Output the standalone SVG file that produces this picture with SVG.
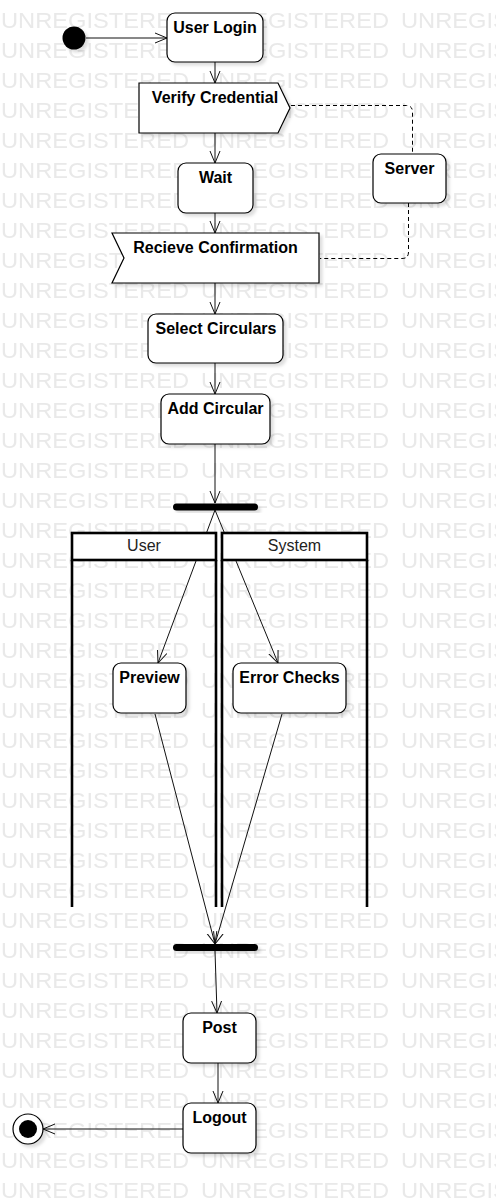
<svg xmlns="http://www.w3.org/2000/svg" width="496" height="1203" viewBox="0 0 496 1203">
<defs>
<style>
.wm{font-family:"Liberation Sans",Arial,sans-serif;font-size:21.5px;fill:#e9e9e9}
.node{fill:#fff;stroke:#000;stroke-width:1.2}
.lbl{font-family:"Liberation Sans",Arial,sans-serif;font-size:16px;font-weight:bold;fill:#000;text-anchor:middle}
.lane{font-family:"Liberation Sans",Arial,sans-serif;font-size:16px;fill:#222;text-anchor:middle}
.edge{fill:none;stroke:#111;stroke-width:1}
.dash{fill:none;stroke:#000;stroke-width:1;stroke-dasharray:4 3}
.lanebox{fill:#fff;stroke:#000;stroke-width:2.6}
.laneline{stroke:#000;stroke-width:2.6;fill:none}
</style>
<filter id="sh" x="-20%" y="-20%" width="150%" height="150%">
<feDropShadow dx="3" dy="3" stdDeviation="1.8" flood-color="#000" flood-opacity="0.13"/>
</filter>
<marker id="arr" markerWidth="14" markerHeight="12" refX="12" refY="6" orient="auto" markerUnits="userSpaceOnUse">
<path d="M0,1 L12,6 L0,11" fill="none" stroke="#111" stroke-width="1"/>
</marker>
<pattern id="wmp" x="0" y="0" width="200" height="30" patternUnits="userSpaceOnUse">
<text class="wm" x="1" y="28" textLength="188" lengthAdjust="spacingAndGlyphs">UNREGISTERED</text>
</pattern>
</defs>
<rect width="496" height="1203" fill="#fff"/>
<rect id="watermark" x="0" y="0" width="496" height="1203" fill="url(#wmp)"/>

<g id="connectors">
<line class="edge" x1="86" y1="38" x2="167" y2="38" marker-end="url(#arr)"/>
<line class="edge" x1="215" y1="62" x2="215" y2="83" marker-end="url(#arr)"/>
<line class="edge" x1="215" y1="133" x2="215" y2="163" marker-end="url(#arr)"/>
<line class="edge" x1="215" y1="213" x2="215" y2="233" marker-end="url(#arr)"/>
<line class="edge" x1="215" y1="283" x2="215" y2="314" marker-end="url(#arr)"/>
<line class="edge" x1="215" y1="363" x2="215" y2="394" marker-end="url(#arr)"/>
<line class="edge" x1="215" y1="444" x2="215" y2="503" marker-end="url(#arr)"/>
<line class="edge" x1="215" y1="510" x2="158" y2="663" marker-end="url(#arr)"/>
<line class="edge" x1="215" y1="510" x2="278" y2="663" marker-end="url(#arr)"/>
<line class="edge" x1="155" y1="714" x2="215" y2="944" marker-end="url(#arr)"/>
<line class="edge" x1="282" y1="714" x2="215" y2="944" marker-end="url(#arr)"/>
<line class="edge" x1="215" y1="951" x2="217" y2="1013" marker-end="url(#arr)"/>
<line class="edge" x1="218" y1="1063" x2="218" y2="1103" marker-end="url(#arr)"/>
<line class="edge" x1="183" y1="1129" x2="43" y2="1129" marker-end="url(#arr)"/>
<path class="dash" d="M291,105.5 H406 Q412.5,105.5 412.5,112 V154"/>
<path class="dash" d="M408.5,203 V252 Q408.5,258.5 402,258.5 H320"/>
</g>

<g id="lane-user">
<rect class="lanebox" x="72" y="533" width="144" height="27"/>
<line class="laneline" x1="72" y1="560" x2="72" y2="907"/>
<line class="laneline" x1="216" y1="560" x2="216" y2="907"/>
<text class="lane" x="144" y="551">User</text>
</g>
<g id="lane-system">
<rect class="lanebox" x="222" y="533" width="145" height="27"/>
<line class="laneline" x1="222" y1="560" x2="222" y2="907"/>
<line class="laneline" x1="367" y1="560" x2="367" y2="907"/>
<text class="lane" x="294.5" y="551">System</text>
</g>

<g id="start">
<circle cx="74" cy="38" r="11.5" fill="#000" filter="url(#sh)"/>
</g>
<g id="user-login">
<rect class="node" x="167" y="13" width="96" height="49" rx="8" filter="url(#sh)"/>
<text class="lbl" x="215" y="32.5">User Login</text>
</g>
<g id="verify-credential">
<polygon class="node" points="139,83 278,83 290,108 278,133 139,133" filter="url(#sh)"/>
<text class="lbl" x="215" y="102.5">Verify Credential</text>
</g>
<g id="server">
<rect class="node" x="373" y="154" width="73" height="49" rx="8" filter="url(#sh)"/>
<text class="lbl" x="409.5" y="173.5">Server</text>
</g>
<g id="wait">
<rect class="node" x="178" y="163" width="75" height="50" rx="8" filter="url(#sh)"/>
<text class="lbl" x="215.5" y="182.5">Wait</text>
</g>
<g id="recieve-confirmation">
<polygon class="node" points="112,233 319,233 319,283 112,283 124,258" filter="url(#sh)"/>
<text class="lbl" x="215.5" y="253">Recieve Confirmation</text>
</g>
<g id="select-circulars">
<rect class="node" x="148" y="314" width="135" height="49" rx="8" filter="url(#sh)"/>
<text class="lbl" x="216" y="333.5">Select Circulars</text>
</g>
<g id="add-circular">
<rect class="node" x="161" y="394" width="109" height="50" rx="8" filter="url(#sh)"/>
<text class="lbl" x="215.5" y="413.5">Add Circular</text>
</g>
<g id="fork">
<rect x="173" y="503.5" width="85" height="7" rx="3.5" fill="#000" filter="url(#sh)"/>
</g>
<g id="preview">
<rect class="node" x="113" y="663" width="73" height="50" rx="8" filter="url(#sh)"/>
<text class="lbl" x="149.5" y="682.5">Preview</text>
</g>
<g id="error-checks">
<rect class="node" x="233" y="663" width="113" height="50" rx="8" filter="url(#sh)"/>
<text class="lbl" x="289.5" y="682.5">Error Checks</text>
</g>
<g id="join">
<rect x="173" y="944" width="85" height="7" rx="3.5" fill="#000" filter="url(#sh)"/>
</g>
<g id="post">
<rect class="node" x="183" y="1013" width="73" height="50" rx="8" filter="url(#sh)"/>
<text class="lbl" x="219.5" y="1032.5">Post</text>
</g>
<g id="logout">
<rect class="node" x="183" y="1103" width="73" height="50" rx="8" filter="url(#sh)"/>
<text class="lbl" x="219.5" y="1122.5">Logout</text>
</g>
<g id="end">
<circle cx="28" cy="1129" r="15" fill="#fff" stroke="#000" stroke-width="1.2" filter="url(#sh)"/>
<circle cx="28" cy="1129" r="9" fill="#000"/>
</g>
</svg>
